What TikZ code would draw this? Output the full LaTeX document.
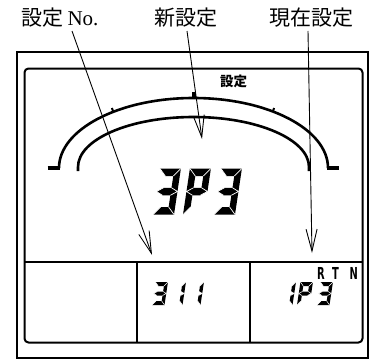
\documentclass[tikz,border=0pt]{standalone}
\usepackage{fontspec}
\setmainfont{Liberation Serif}
\newfontfamily\cjk{Noto Sans CJK JP}
\newfontfamily\rtnfont{DejaVu Sans}
\usetikzlibrary{arrows.meta}
\tikzset{
  frame/.style={draw=black, line width=2pt},
  arcline/.style={draw=black, line width=2.6pt},
  foot/.style={draw=black, line width=3.6pt},
  pointer/.style={draw=black, line width=0.9pt, -{Straight Barb[length=22pt,width=11pt,line width=0.9pt]}},
  lab/.style={inner sep=0pt, font=\fontsize{21}{21}\selectfont\cjk},
}
\newcommand\lcdA{\fill (0,\lcdh) -- (\lcdw,\lcdh) -- ({\lcdw-\lcdtv},{\lcdh-\lcdth}) -- (\lcdtv,{\lcdh-\lcdth}) -- cycle;}
\newcommand\lcdB{\fill (\lcdw,\lcdh) -- (\lcdw,{\lcdh/2}) -- ({\lcdw-\lcdtv},{\lcdh/2+\lcdth/2}) -- ({\lcdw-\lcdtv},{\lcdh-\lcdth}) -- cycle;}
\newcommand\lcdC{\fill (\lcdw,{\lcdh/2}) -- (\lcdw,0) -- ({\lcdw-\lcdtv},\lcdth) -- ({\lcdw-\lcdtv},{\lcdh/2-\lcdth/2}) -- cycle;}
\newcommand\lcdD{\fill (0,0) -- (\lcdw,0) -- ({\lcdw-\lcdtv},\lcdth) -- (\lcdtv,\lcdth) -- cycle;}
\newcommand\lcdE{\fill (0,{\lcdh/2}) -- (0,0) -- (\lcdtv,\lcdth) -- (\lcdtv,{\lcdh/2-\lcdth/2}) -- cycle;}
\newcommand\lcdF{\fill (0,\lcdh) -- (0,{\lcdh/2}) -- (\lcdtv,{\lcdh/2+\lcdth/2}) -- (\lcdtv,{\lcdh-\lcdth}) -- cycle;}
\newcommand\lcdG{\fill (0,{\lcdh/2}) -- (\lcdtv,{\lcdh/2+\lcdth/2}) -- ({\lcdw-\lcdtv},{\lcdh/2+\lcdth/2}) -- (\lcdw,{\lcdh/2}) -- ({\lcdw-\lcdtv},{\lcdh/2-\lcdth/2}) -- (\lcdtv,{\lcdh/2-\lcdth/2}) -- cycle;}
\newcommand\lcdcuts{\draw[white, line width=\lcdcut] (0,\lcdh) -- (\lcdtv,{\lcdh-\lcdth}) (\lcdw,\lcdh) -- ({\lcdw-\lcdtv},{\lcdh-\lcdth}) (0,0) -- (\lcdtv,\lcdth) (\lcdw,0) -- ({\lcdw-\lcdtv},\lcdth) (\lcdtv,{\lcdh/2+\lcdth/2}) -- (0,{\lcdh/2}) -- (\lcdtv,{\lcdh/2-\lcdth/2}) ({\lcdw-\lcdtv},{\lcdh/2+\lcdth/2}) -- (\lcdw,{\lcdh/2}) -- ({\lcdw-\lcdtv},{\lcdh/2-\lcdth/2});}
\newcommand\lcddigit[3]{\begin{scope}[shift={(#1,#2)}, x=1pt, y=1pt, xslant=\lcdsl]#3\lcdcuts\end{scope}}
\newcommand\lcdthree{\lcdA\lcdB\lcdG\lcdC\lcdD}
\newcommand\lcdpee{\lcdA\lcdB\lcdF\lcdG\lcdE}
\newcommand\lcdone{\lcdB\lcdC}
\begin{document}
\begin{tikzpicture}[x=1pt,y=-1pt]
\fill[white] (0,0) rectangle (374,361);
\useasboundingbox (0,0) rectangle (374,361);
% frames
\draw[frame] (17,52) rectangle (368.4,358.4);
\draw[frame, rounded corners=4pt] (24.5,68.5) rectangle (362.5,342.5);
\draw[frame] (24.5,262) -- (362.5,262);
\draw[frame] (137,262) -- (137,342.5);
\draw[frame] (249.5,262) -- (249.5,342.5);
% arcs
\draw[arcline] (59,168) arc[start angle=180, end angle=360, x radius=134.5, y radius=70];
\draw[foot] (47.5,168) -- (60.3,168);
\draw[foot] (326.7,168) -- (338.5,168);
\draw[arcline] (78,171) -- (78,167) arc[start angle=180, end angle=360, x radius=115.5, y radius=50] -- (309,171);
\fill (192,91.5) rectangle (195.5,98);
\draw[line width=2pt] (113,111) -- (111.9,108);
\draw[line width=2pt] (273,111) -- (274.1,108);
% labels
\node[lab] (lno) at (60,17.5) {設定\hspace{4pt}{\rmfamily No.}};
\node[lab] (lnew) at (186,17.5) {新設定};
\node[lab] (lcur) at (311,17.5) {現在設定};
\node[inner sep=0pt, font=\fontsize{13.5}{13.5}\selectfont\cjk\bfseries] (set) at (233.5,81) {設定};
\node[inner sep=0pt, anchor=base west, font=\rtnfont\bfseries\fontsize{16.5}{16.5}\selectfont] (rtn) at (317,279) {\scalebox{0.6}[1]{R\hspace{12pt}T\hspace{18pt}N}};
% pointers
\coordinate (s1) at (72,31);
\coordinate (s2) at (187,31);
\coordinate (s3) at (308,31);
\coordinate (t1) at (152,255);
\coordinate (t2) at (202,139);
\coordinate (t3) at (312,253);
\draw[pointer] (s1) -- (t1);
\draw[pointer] (s2) -- (t2);
\draw[pointer] (s3) -- (t3);
% big digits 3P3
\def\lcdw{21}\def\lcdh{46}\def\lcdth{7.5}\def\lcdtv{6.5}\def\lcdcut{0.7pt}\def\lcdsl{0.15}
\lcddigit{153}{214.5}{\lcdthree}
\lcddigit{183}{214.5}{\lcdpee}
\lcddigit{214}{214.5}{\lcdthree}
% small digits
\def\lcdw{12.5}\def\lcdh{23}\def\lcdth{4}\def\lcdtv{3.4}\def\lcdcut{0.5pt}
\lcddigit{152}{305}{\lcdthree}
\lcddigit{170}{305}{\lcdone}
\lcddigit{188}{305}{\lcdone}
\lcddigit{280}{305}{\lcdone}
\lcddigit{297}{305}{\lcdpee}
\lcddigit{317}{305}{\lcdthree}
\end{tikzpicture}
\end{document}
